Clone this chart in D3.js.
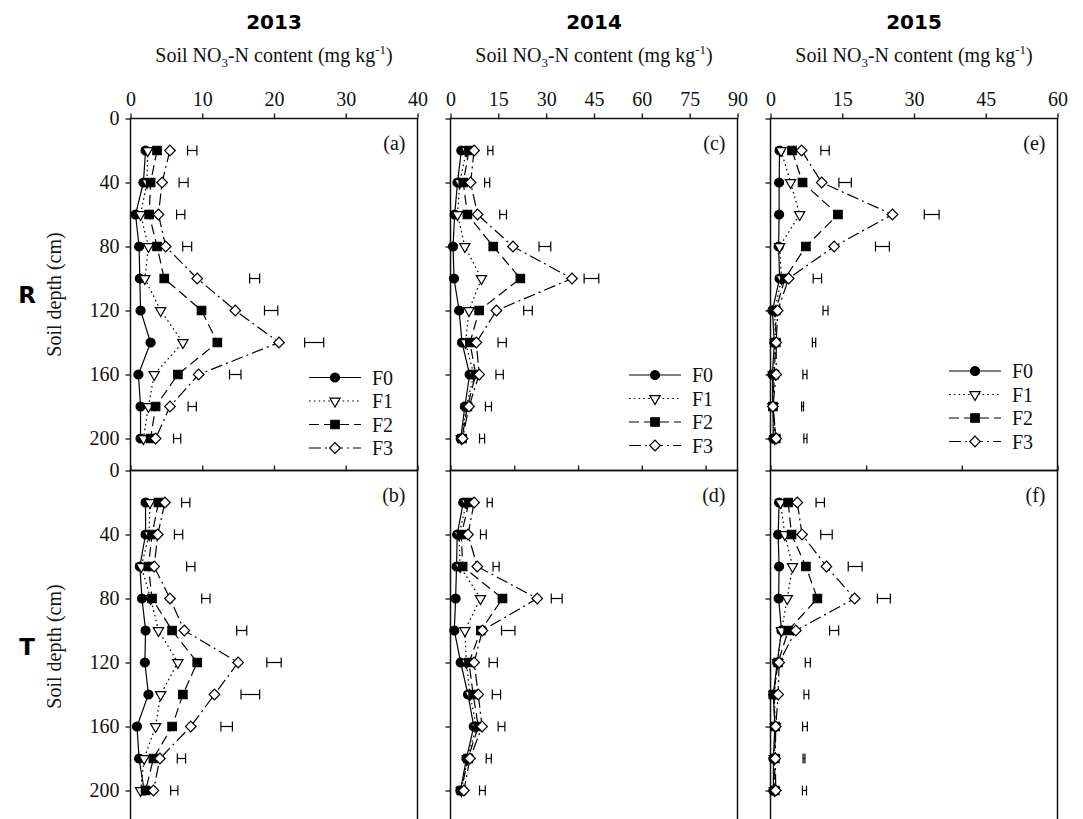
<!DOCTYPE html>
<html>
<head>
<meta charset="utf-8">
<script src="https://cdn.jsdelivr.net/npm/d3@7"></script>
<style>
  body { margin: 0; background: #fff; }
  svg { display: block; }
</style>
</head>
<body>
<svg id="chart" width="1083" height="819"></svg>
<script>
// Sampling depths (cm) and treatments
const depths = [20, 40, 60, 80, 100, 120, 140, 160, 180, 200];
const treatments = ["F0", "F1", "F2", "F3"];
const years = ["2013", "2014", "2015"];
const systems = ["R", "T"];
const panelTags = [["(a)", "(c)", "(e)"], ["(b)", "(d)", "(f)"]];
const xMax = [40, 90, 60];
const topTicks = [[0, 10, 20, 30, 40], [0, 15, 30, 45, 60, 75, 90], [0, 15, 30, 45, 60]];
const lowerTicks = [[0, 10, 20, 30, 40], [0, 20, 40, 60, 80], [0, 20, 40, 60]];
const depthTicks = [0, 40, 80, 120, 160, 200];

// Soil NO3-N (mg kg-1); rows are F0, F1, F2, F3 at each depth
const R2013 = [
  [2.1, 1.8, 0.7, 1.2, 1.3, 1.4, 2.8, 1.1, 1.4, 1.4],
  [2.4, 2.3, 1.4, 2.5, 2.0, 4.2, 7.3, 3.3, 2.5, 1.8],
  [3.7, 2.8, 2.6, 3.7, 4.7, 9.9, 12.1, 6.6, 3.5, 2.8],
  [5.5, 4.4, 3.9, 4.9, 9.3, 14.6, 20.7, 9.5, 5.5, 3.5]
];
const T2013 = [
  [2.1, 2.1, 1.3, 1.6, 2.1, 2.0, 2.5, 0.9, 1.2, 1.9],
  [2.7, 2.6, 1.5, 2.8, 3.9, 6.6, 4.2, 3.5, 1.9, 1.4],
  [3.9, 3.0, 2.5, 3.0, 5.8, 9.3, 7.3, 5.8, 3.2, 2.1],
  [4.8, 3.8, 3.3, 5.5, 7.5, 15.0, 11.7, 8.4, 4.1, 3.2]
];
const R2014 = [
  [3.4, 2.2, 1.3, 0.8, 1.1, 2.7, 3.6, 6.0, 4.5, 3.2],
  [5.0, 2.9, 2.2, 4.5, 9.7, 5.8, 4.7, 7.3, 5.0, 3.4],
  [5.8, 4.0, 5.3, 13.4, 21.9, 9.0, 6.1, 7.9, 5.3, 3.6],
  [7.4, 6.3, 8.5, 19.6, 38.1, 14.4, 8.1, 9.0, 5.8, 3.8]
];
const T2014 = [
  [4.0, 2.1, 1.9, 1.6, 1.2, 3.2, 5.5, 7.3, 5.0, 3.1],
  [5.0, 2.7, 3.0, 9.4, 4.5, 5.0, 6.1, 8.1, 5.3, 3.4],
  [5.8, 3.4, 3.8, 16.3, 9.5, 5.8, 7.1, 8.7, 5.5, 3.4],
  [7.4, 5.5, 8.4, 27.2, 10.0, 7.4, 8.7, 9.9, 6.1, 4.2]
];
const R2015 = [
  [1.9, 1.8, 1.8, 1.7, 1.9, 0.4, 0.8, 0.4, 0.5, 0.6],
  [2.2, 4.2, 6.1, 1.9, 2.3, 0.9, 1.0, 0.6, 0.5, 0.9],
  [4.5, 6.7, 14.1, 7.4, 3.0, 1.1, 1.1, 0.8, 0.5, 1.1],
  [6.5, 10.7, 25.5, 13.3, 3.8, 1.5, 1.2, 1.2, 0.5, 1.2]
];
const T2015 = [
  [1.8, 1.6, 1.8, 1.7, 2.3, 1.4, 0.6, 0.9, 0.6, 0.6],
  [2.1, 3.0, 4.6, 3.5, 2.3, 1.5, 0.8, 1.0, 0.8, 0.8],
  [3.7, 4.4, 7.4, 9.8, 3.7, 1.6, 0.6, 1.0, 0.9, 0.9],
  [5.6, 6.6, 11.7, 17.6, 5.3, 1.8, 1.6, 1.1, 1.0, 1.1]
];

// LSD (0.05) bars at each depth: position of the bar and its length
const R2013_lsdAt = [8.6, 7.4, 7.0, 7.9, 17.3, 19.6, 25.6, 14.6, 8.6, 6.5];
const R2013_lsd   = [1.3, 1.25, 1.15, 1.25, 1.4, 1.85, 2.65, 1.6, 1.15, 1.0];
const T2013_lsdAt = [7.7, 6.7, 8.4, 10.5, 15.5, 20.0, 16.7, 13.4, 7.1, 6.1];
const T2013_lsd   = [1.15, 1.15, 1.15, 1.15, 1.4, 2.0, 2.6, 1.6, 1.15, 1.0];
const R2014_lsdAt = [12.5, 11.5, 16.5, 29.6, 44.2, 24.3, 16.2, 15.4, 11.9, 9.9];
const R2014_lsd   = [1.6, 1.6, 2.1, 3.7, 4.6, 2.7, 2.6, 2.3, 1.9, 1.6];
const T2014_lsdAt = [12.3, 10.3, 14.3, 33.3, 18.1, 13.4, 14.4, 16.0, 12.0, 10.0];
const T2014_lsd   = [1.6, 1.8, 1.9, 3.4, 4.2, 2.6, 2.6, 2.1, 1.6, 1.8];
const R2015_lsdAt = [11.4, 15.6, 33.7, 23.4, 9.8, 11.5, 9.1, 7.2, 6.7, 7.3];
const R2015_lsd   = [1.75, 2.6, 3.1, 2.9, 1.75, 1.05, 0.7, 0.85, 0.4, 0.65];
const T2015_lsdAt = [10.4, 11.7, 17.7, 23.7, 13.3, 7.8, 7.5, 7.2, 7.0, 7.1];
const T2015_lsd   = [1.75, 2.4, 2.9, 2.7, 1.9, 1.05, 1.0, 1.0, 0.4, 0.85];

const panelValues = [[R2013, R2014, R2015], [T2013, T2014, T2015]];
const panelLsdAt = [[R2013_lsdAt, R2014_lsdAt, R2015_lsdAt], [T2013_lsdAt, T2014_lsdAt, T2015_lsdAt]];
const panelLsd = [[R2013_lsd, R2014_lsd, R2015_lsd], [T2013_lsd, T2014_lsd, T2015_lsd]];

// ---- layout ----
const colLeft = [130.5, 450.5, 770.5];
const panelW = 287;
const rowTop = [118.5, 470.5];
const panelH = 352;          // depth 0..220 cm
const legendTop = [259, 256.5, 252.5];
const serif = "'Liberation Serif', 'Times New Roman', serif";
const sans = "'DejaVu Sans', Verdana, sans-serif";
const ink = "#111";

const dashes = ["none", "1.6,3.2", "10,5", "12,4,2,4"];
// circle, down-triangle, square, diamond (square turned 45 degrees)
const symbols = [d3.symbolCircle, d3.symbolTriangle, d3.symbolSquare, d3.symbolSquare];
const symSize = [64, 46, 72, 56];
const symFill = ["#000", "#fff", "#000", "#fff"];
const symRotate = [0, 180, 0, 45];

const svg = d3.select("#chart");

function drawMarker(g, i, x, y) {
  g.append("path")
    .attr("d", d3.symbol().type(symbols[i]).size(symSize[i])())
    .attr("transform", `translate(${x},${y}) rotate(${symRotate[i]})`)
    .attr("fill", symFill[i])
    .attr("stroke", "#000")
    .attr("stroke-width", 1.2);
}

years.forEach((yr, c) => {
  const cx = colLeft[c] + panelW / 2;
  svg.append("text")
    .attr("x", cx).attr("y", 29)
    .attr("text-anchor", "middle")
    .attr("font-family", sans).attr("font-weight", "bold").attr("font-size", 20)
    .attr("fill", "#000")
    .text(yr);

  const t = svg.append("text")
    .attr("x", cx).attr("y", 62)
    .attr("text-anchor", "middle")
    .attr("font-family", serif).attr("font-size", 20).attr("fill", ink);
  t.append("tspan").text("Soil NO");
  t.append("tspan").attr("dy", 5).attr("font-size", 13).text("3");
  t.append("tspan").attr("dy", -5).text("-N content (mg kg");
  t.append("tspan").attr("dy", -8).attr("font-size", 13).text("-1");
  t.append("tspan").attr("dy", 8).text(")");
});

systems.forEach((sys, r) => {
  const top = rowTop[r];
  const y = d3.scaleLinear().domain([0, 220]).range([top, top + panelH]);

  svg.append("text")
    .attr("x", 27).attr("y", y(110) + 8)
    .attr("text-anchor", "middle")
    .attr("font-family", sans).attr("font-weight", "bold").attr("font-size", 23)
    .attr("fill", "#000")
    .text(sys);

  svg.append("text")
    .attr("transform", `translate(61,${y(110)}) rotate(-90)`)
    .attr("text-anchor", "middle")
    .attr("font-family", serif).attr("font-size", 20).attr("fill", ink)
    .text("Soil depth (cm)");

  years.forEach((yr, c) => {
    const left = colLeft[c];
    const x = d3.scaleLinear().domain([0, xMax[c]]).range([left, left + panelW]);
    const g = svg.append("g");

    // top axis
    const ax = d3.axisTop(x)
      .tickValues(r === 0 ? topTicks[c] : lowerTicks[c])
      .tickSize(5).tickSizeOuter(0).tickPadding(8)
      .tickFormat(r === 0 ? d3.format("d") : () => "");
    const axG = g.append("g").attr("transform", `translate(0,${top})`).call(ax);
    axG.select(".domain").remove();
    axG.selectAll("line").attr("stroke", ink).attr("stroke-width", 1.3);
    axG.selectAll("text").attr("font-family", serif).attr("font-size", 20).attr("fill", ink);

    // left axis
    const ay = d3.axisLeft(y)
      .tickValues(depthTicks)
      .tickSize(5).tickSizeOuter(0).tickPadding(6)
      .tickFormat(c === 0 ? d3.format("d") : () => "");
    const ayG = g.append("g").attr("transform", `translate(${left},0)`).call(ay);
    ayG.select(".domain").remove();
    ayG.selectAll("line").attr("stroke", ink).attr("stroke-width", 1.3);
    ayG.selectAll("text").attr("font-family", serif).attr("font-size", 20).attr("fill", ink);

    // frame
    g.append("rect")
      .attr("x", left).attr("y", top)
      .attr("width", panelW).attr("height", panelH)
      .attr("fill", "none").attr("stroke", ink).attr("stroke-width", 1.5);

    // panel tag
    g.append("text")
      .attr("x", left + panelW - 12).attr("y", y(16) + 6)
      .attr("text-anchor", "end")
      .attr("font-family", serif).attr("font-size", 20).attr("fill", ink)
      .text(panelTags[r][c]);

    const vals = panelValues[r][c];

    // LSD bars
    const lsdAt = panelLsdAt[r][c], lsd = panelLsd[r][c];
    depths.forEach((d, k) => {
      const x0 = x(lsdAt[k] - lsd[k] / 2), x1 = x(lsdAt[k] + lsd[k] / 2), yy = y(d);
      const bar = g.append("g").attr("stroke", "#000").attr("stroke-width", 1.2);
      bar.append("line").attr("x1", x0).attr("x2", x1).attr("y1", yy).attr("y2", yy);
      bar.append("line").attr("x1", x0).attr("x2", x0).attr("y1", yy - 5).attr("y2", yy + 5);
      bar.append("line").attr("x1", x1).attr("x2", x1).attr("y1", yy - 5).attr("y2", yy + 5);
    });

    // profile lines
    const line = d3.line().x(p => x(p[1])).y(p => y(p[0]));
    vals.forEach((series, i) => {
      g.append("path")
        .attr("d", line(depths.map((d, k) => [d, series[k]])))
        .attr("fill", "none").attr("stroke", "#000").attr("stroke-width", 1.2)
        .attr("stroke-dasharray", dashes[i]);
    });
    // markers
    vals.forEach((series, i) => {
      depths.forEach((d, k) => drawMarker(g, i, x(series[k]), y(d)));
    });

    // legend (top row)
    if (r === 0) {
      const lx = left + 178.5;
      treatments.forEach((name, i) => {
        const ly = top + legendTop[c] + i * 23.5;
        g.append("line")
          .attr("x1", lx).attr("x2", lx + 52).attr("y1", ly).attr("y2", ly)
          .attr("stroke", "#000").attr("stroke-width", 1.2)
          .attr("stroke-dasharray", dashes[i]);
        drawMarker(g, i, lx + 26, ly);
        g.append("text")
          .attr("x", lx + 63).attr("y", ly + 7)
          .attr("font-family", serif).attr("font-size", 20).attr("fill", ink)
          .text(name);
      });
    }
  });
});
</script>
</body>
</html>
